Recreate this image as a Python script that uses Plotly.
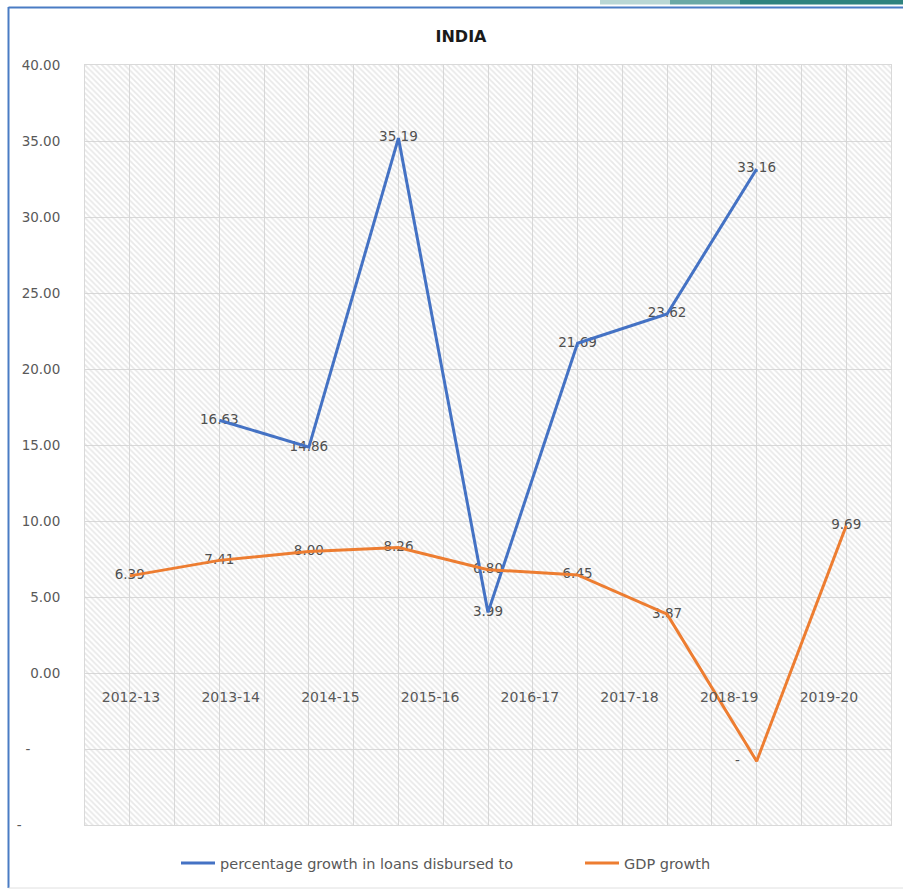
import plotly.graph_objects as go

# ---- data ----
years = ["2012-13", "2013-14", "2014-15", "2015-16", "2016-17",
         "2017-18", "2018-19", "2019-20"]
points = list(range(9))  # nine observation slots along the x axis
loan_growth = [None, 16.63, 14.86, 35.19, 3.99, 21.69, 23.62, 33.16, None]
gdp_growth = [6.39, 7.41, 8.00, 8.26, 6.80, 6.45, 3.87, -5.80, 9.69]
y_ticks = [-10, -5, 0, 5, 10, 15, 20, 25, 30, 35, 40]

loan_name = "percentage growth in loans disbursed to"
gdp_name = "GDP growth"

BLUE = "#4472C4"
ORANGE = "#ED7D31"
GREY_TXT = "#595959"
GRID = "#d9d9d9"
FONT = "DejaVu Sans"
NB = "\u00a0"

W, H = 903, 890
L, R, T, B = 85, 12, 65, 65
PW, PH = W - L - R, H - T - B


def px_x(px):
    return (px - L) / PW


def px_y(py):
    return (H - B - py) / PH


def fmt(v):
    # negatives are shown as a dash, padded like an accounting format
    if v is None:
        return ""
    if v < 0:
        return "-" + NB * 9
    return f"{v:.2f}"


def ytick_text(v):
    if v == -5:
        return "-" + NB * 7
    if v == -10:
        return "-" + NB * 9
    return f"{v:.2f}"


fig = go.Figure()

# hatched plot-area background
fig.add_trace(go.Scatter(
    x=[-0.5, 8.5, 8.5, -0.5, -0.5], y=[-10, -10, 40, 40, -10],
    mode="lines", fill="toself", fillcolor="rgba(0,0,0,0)",
    fillpattern=dict(shape="\\", size=4, solidity=0.45,
                     fgcolor="#d2d2d2", bgcolor="rgba(255,255,255,0)"),
    line=dict(width=0), hoverinfo="skip", showlegend=False,
))

# value labels (drawn beneath the lines)
for vals in (loan_growth, gdp_growth):
    fig.add_trace(go.Scatter(
        x=points, y=vals, mode="text", text=[fmt(v) for v in vals],
        textposition="middle center",
        textfont=dict(family=FONT, size=13.5, color="#505050"),
        hoverinfo="skip", showlegend=False,
    ))

fig.add_trace(go.Scatter(
    x=points, y=loan_growth, mode="lines", name=loan_name,
    line=dict(color=BLUE, width=3), connectgaps=False, legend="legend",
))
fig.add_trace(go.Scatter(
    x=points, y=gdp_growth, mode="lines", name=gdp_name,
    line=dict(color=ORANGE, width=3), legend="legend2",
))

# category labels sit on a separate axis running along the zero line
fig.add_trace(go.Scatter(
    x=[0], y=[None], xaxis="x2", yaxis="y", mode="lines",
    showlegend=False, hoverinfo="skip",
))

lab_step = 99.7
lab0 = 131

legend_common = dict(orientation="h", xanchor="left", yanchor="middle",
                     itemwidth=34,
                     font=dict(family=FONT, size=14.5, color=GREY_TXT),
                     bgcolor="rgba(0,0,0,0)")

fig.update_layout(
    width=W, height=H,
    margin=dict(l=L, r=R, t=T, b=B, autoexpand=False),
    paper_bgcolor="white", plot_bgcolor="white",
    font=dict(family=FONT, color=GREY_TXT),
    title=dict(text="<b>INDIA</b>", x=px_x(461), xanchor="center",
               xref="paper", y=1 - 36 / H, yanchor="middle",
               font=dict(family=FONT, size=16, color="#1a1a1a")),
    xaxis=dict(range=[-0.5, 8.5], tickmode="array",
               tickvals=[-0.5 + 0.5 * k for k in range(19)],
               showticklabels=False, ticks="", showgrid=True,
               gridcolor=GRID, gridwidth=1, zeroline=False,
               showline=True, linecolor=GRID, mirror=True),
    xaxis2=dict(overlaying="x", anchor="free", position=px_y(674),
                range=[(L - lab0) / lab_step, (L + PW - lab0) / lab_step],
                tickmode="array", tickvals=list(range(len(years))),
                ticktext=years, ticks="outside", ticklen=10,
                tickcolor="rgba(0,0,0,0)", showgrid=False,
                zeroline=False, showline=False,
                tickfont=dict(family=FONT, size=14, color=GREY_TXT)),
    yaxis=dict(range=[-10, 40], tickmode="array", tickvals=y_ticks,
               ticktext=[ytick_text(v) for v in y_ticks],
               showgrid=True, gridcolor=GRID, gridwidth=1,
               zeroline=False, showline=True, linecolor=GRID, mirror=True,
               ticks="", ticklabelstandoff=21,
               tickfont=dict(family=FONT, size=13.5, color=GREY_TXT)),
    legend=dict(x=px_x(176), y=px_y(863), **legend_common),
    legend2=dict(x=px_x(580), y=px_y(863), **legend_common),
    showlegend=True,
)

# chart frame and top accent strip
shapes = [
    dict(type="line", xref="paper", yref="paper",
         x0=px_x(8.5), x1=px_x(8.5), y0=px_y(7), y1=px_y(888),
         line=dict(color="#4a7cc4", width=2)),
    dict(type="line", xref="paper", yref="paper",
         x0=px_x(8.5), x1=px_x(903), y0=px_y(7.5), y1=px_y(7.5),
         line=dict(color="#4a7cc4", width=2)),
    dict(type="line", xref="paper", yref="paper",
         x0=px_x(8.5), x1=px_x(903), y0=px_y(888), y1=px_y(888),
         line=dict(color="#e0e0e0", width=1)),
    dict(type="rect", xref="paper", yref="paper",
         x0=px_x(600), x1=px_x(670), y0=px_y(0), y1=px_y(4.5),
         fillcolor="#b9d7d5", line=dict(width=0)),
    dict(type="rect", xref="paper", yref="paper",
         x0=px_x(670), x1=px_x(740), y0=px_y(0), y1=px_y(4.5),
         fillcolor="#6aa9a5", line=dict(width=0)),
    dict(type="rect", xref="paper", yref="paper",
         x0=px_x(740), x1=px_x(903), y0=px_y(0), y1=px_y(4.5),
         fillcolor="#2f837e", line=dict(width=0)),
]
fig.update_layout(shapes=shapes)

fig.write_html("out.html")
